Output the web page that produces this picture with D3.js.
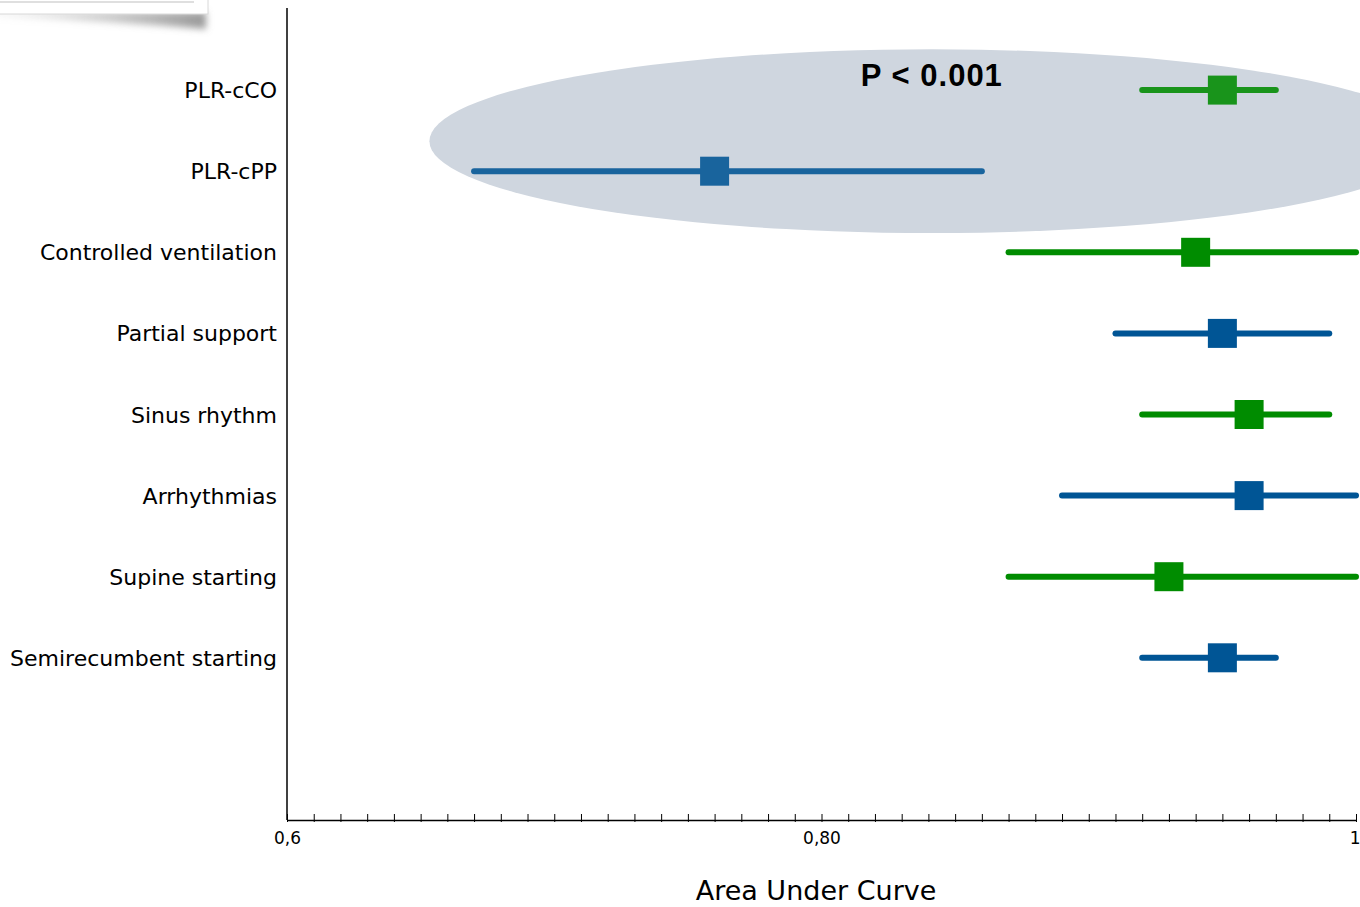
<!DOCTYPE html>
<html>
<head>
<meta charset="utf-8">
<script src="https://cdn.jsdelivr.net/npm/d3@7"></script>
<style>
  body { margin: 0; background: #fff; }
  svg { display: block; font-family: "DejaVu Sans", sans-serif; }
</style>
</head>
<body>
<svg id="forest" width="1360" height="907"></svg>
<script>
// data
const categories = ["PLR-cCO", "PLR-cPP", "Controlled ventilation", "Partial support",
                    "Sinus rhythm", "Arrhythmias", "Supine starting", "Semirecumbent starting"];
const auc   = [0.95, 0.76, 0.94, 0.95, 0.96, 0.96, 0.93, 0.95];
const lower = [0.92, 0.67, 0.87, 0.91, 0.92, 0.89, 0.87, 0.92];
const upper = [0.97, 0.86, 1.00, 0.99, 0.99, 1.00, 1.00, 0.97];
const group = ["green", "blue", "green", "blue", "green", "blue", "green", "blue"];
const highlighted = ["PLR-cCO", "PLR-cPP"];
const tickValues = d3.range(60, 101).map(d => d / 100);
const tickLabels = { "0.6": "0,6", "0.8": "0,80", "1": "1" };
const pLabel = "P < 0.001";

const colors = { green: "#008c00", blue: "#005595" };

const width = 1360, height = 907;
const svg = d3.select("#forest");

const x = d3.scaleLinear().domain([0.6, 1]).range([287, 1356]);
// rows are indexed 0..7, axis spans one empty row above and two below
const y = d3.scaleLinear().domain([-1, 9]).range([9, 820]);

const rows = categories.map((c, i) => ({
  name: c, est: auc[i], lo: lower[i], hi: upper[i], col: colors[group[i]], idx: i
}));

// piece of a window peeking in at the top-left corner
const defs = svg.append("defs");
defs.append("filter").attr("id", "blur").attr("x", "-20%").attr("y", "-50%")
  .attr("width", "140%").attr("height", "200%")
  .append("feGaussianBlur").attr("stdDeviation", 3.5);
const shadowGrad = defs.append("linearGradient").attr("id", "shadowGrad");
shadowGrad.append("stop").attr("offset", "0%").attr("stop-color", "#aaa").attr("stop-opacity", 0.1);
shadowGrad.append("stop").attr("offset", "100%").attr("stop-color", "#808080").attr("stop-opacity", 0.8);
svg.append("path")
  .attr("d", "M-10,12 L206,12 L206,29 Q120,22 -10,16 Z")
  .attr("fill", "url(#shadowGrad)")
  .attr("filter", "url(#blur)");
svg.append("rect")
  .attr("x", -10).attr("y", -10).attr("width", 218).attr("height", 24)
  .attr("fill", "#fff").attr("stroke", "#d8d8d8");
svg.append("line")
  .attr("x1", 0).attr("x2", 194).attr("y1", 2).attr("y2", 2)
  .attr("stroke", "#d4d4d4").attr("stroke-width", 1.5);

// highlight ellipse around the PLR rows
svg.append("ellipse")
  .attr("cx", x(0.8413))
  .attr("cy", y(0.63))
  .attr("rx", x(0.8413 + 0.188) - x(0.8413))
  .attr("ry", y(0.63 + 1.133) - y(0.63))
  .attr("fill", "#cfd6df");

svg.append("text")
  .attr("x", x(0.8413))
  .attr("y", 86)
  .attr("text-anchor", "middle")
  .style("font-family", "'Liberation Sans', Arial, sans-serif")
  .style("font-weight", "bold")
  .style("font-size", "31px")
  .style("letter-spacing", "1px")
  .text(pLabel);

// confidence intervals and point estimates
const g = svg.append("g");
const marks = g.selectAll("g.row").data(rows).enter().append("g")
  .attr("class", "row")
  .attr("opacity", d => highlighted.includes(d.name) ? 0.88 : 1);

marks.append("line")
  .attr("x1", d => x(d.lo))
  .attr("x2", d => x(d.hi))
  .attr("y1", d => y(d.idx))
  .attr("y2", d => y(d.idx))
  .attr("stroke", d => d.col)
  .attr("stroke-width", 6)
  .attr("stroke-linecap", "round");

const sq = 29;
marks.append("rect")
  .attr("x", d => x(d.est) - sq / 2)
  .attr("y", d => y(d.idx) - sq / 2)
  .attr("width", sq)
  .attr("height", sq)
  .attr("fill", d => d.col);

// category labels
svg.selectAll("text.cat").data(rows).enter().append("text")
  .attr("class", "cat")
  .attr("x", 277)
  .attr("y", d => y(d.idx) + 8)
  .attr("text-anchor", "end")
  .style("font-size", "22px")
  .attr("fill", "#000")
  .text(d => d.name);

// y axis line
svg.append("line")
  .attr("x1", x(0.6)).attr("x2", x(0.6))
  .attr("y1", 8).attr("y2", y(9))
  .attr("stroke", "#000").attr("stroke-width", 1.5);

// x axis
const xAxis = svg.append("g")
  .attr("transform", `translate(0,${y(9)})`)
  .call(d3.axisBottom(x)
    .tickValues(tickValues)
    .tickSizeInner(2)
    .tickSizeOuter(0)
    .tickPadding(10)
    .tickFormat(d => tickLabels[String(d)] || ""));

xAxis.select(".domain").attr("stroke", "#000").attr("stroke-width", 1.5);
xAxis.selectAll(".tick line").attr("y1", -6).attr("y2", 2).attr("stroke", "#000");
xAxis.selectAll(".tick text")
  .attr("fill", "#000")
  .style("font-family", "'DejaVu Sans', sans-serif")
  .style("font-size", "17px");
// last label sits right on the page edge, keep it inside
xAxis.selectAll(".tick text").filter(d => d === 1)
  .attr("text-anchor", "end")
  .attr("dx", 4);

svg.append("text")
  .attr("x", 816)
  .attr("y", 900)
  .attr("text-anchor", "middle")
  .style("font-size", "27px")
  .attr("fill", "#000")
  .text("Area Under Curve");
</script>
</body>
</html>
